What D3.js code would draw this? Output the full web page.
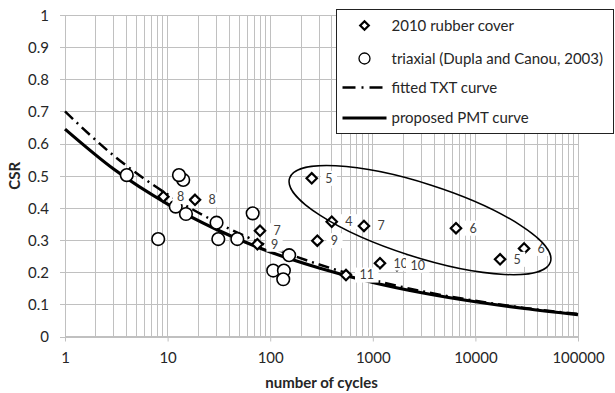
<!DOCTYPE html>
<html>
<head>
<meta charset="utf-8">
<script src="https://cdn.jsdelivr.net/npm/d3@7"></script>
<style>
  html, body { margin: 0; padding: 0; background: #fff; }
  svg { display: block; font-family: Lato, "Open Sans", sans-serif; }
</style>
</head>
<body>
<svg id="chart" width="615" height="393"></svg>
<script>
// 2010 rubber cover tests: number of cycles, CSR, and the label printed next to each
const rubberN     = [9.1, 18.5, 79.5, 75, 254, 398, 820, 288, 1175, 1720, 548, 6470, 17400, 29800];
const rubberCSR   = [0.435, 0.425, 0.329, 0.287, 0.492, 0.357, 0.344, 0.298, 0.228, 0.222, 0.191, 0.337, 0.240, 0.274];
const rubberLabel = ["8", "8", "7", "9", "5", "4", "7", "9", "10", "10", "11", "6", "5", "6"];

// triaxial tests (Dupla and Canou, 2003)
const triaxN   = [4.0, 14.2, 12.9, 12.0, 15.1, 8.1, 30, 31.2, 47.8, 67.5, 153, 107, 136, 134];
const triaxCSR = [0.502, 0.487, 0.502, 0.404, 0.381, 0.303, 0.354, 0.303, 0.303, 0.383, 0.253, 0.205, 0.205, 0.178];

// curves sampled along the cycle axis
const curveN   = [1, 3, 10, 30, 100, 300, 1000, 3000, 10000, 30000, 100000];
const txtCSR   = [0.700, 0.562, 0.442, 0.355, 0.279, 0.224, 0.176, 0.141, 0.111, 0.089, 0.070];
const pmtCSR   = [0.645, 0.520, 0.412, 0.333, 0.263, 0.213, 0.168, 0.136, 0.108, 0.087, 0.068];

// axis ticks
const xTicks = [1, 10, 100, 1000, 10000, 100000];
const yTicks = [0, 0.1, 0.2, 0.3, 0.4, 0.5, 0.6, 0.7, 0.8, 0.9, 1];

// legend entries
const legendLabels = ["2010 rubber cover", "triaxial (Dupla and Canou, 2003)", "fitted TXT curve", "proposed PMT curve"];

// highlighted group of rubber-cover results (centre in data units)
const groupCentre = { n: 2884, csr: 0.362 };

const svg = d3.select("#chart");
const margin = { left: 65, right: 37, top: 15, bottom: 56.5 };
const W = 615, H = 393;
const iw = W - margin.left - margin.right;
const ih = H - margin.top - margin.bottom;

const x = d3.scaleLog().domain([1, 100000]).range([0, iw]);
const y = d3.scaleLinear().domain([0, 1]).range([ih, 0]);

const g = svg.append("g").attr("transform", `translate(${margin.left},${margin.top})`);
const gridColor = "#c0c0c0";
const textColor = "#262626";

// vertical grid: every decade subdivision
const minor = [];
for (let d = 1; d < 100000; d *= 10) for (let k = 1; k <= 10; k++) minor.push(d * k);
g.append("g").selectAll("line").data(minor).join("line")
  .attr("x1", d => x(d)).attr("x2", d => x(d))
  .attr("y1", 0).attr("y2", ih)
  .attr("stroke", gridColor).attr("stroke-width", 1).attr("shape-rendering", "crispEdges");

// horizontal grid + y axis
const yAxis = d3.axisLeft(y).tickValues(yTicks).tickSize(-iw - 5)
  .tickFormat(d => d3.format("~g")(d));
const ya = g.append("g").call(yAxis);
ya.select(".domain").remove();
ya.selectAll(".tick line").attr("stroke", gridColor).attr("x1", -5).attr("x2", iw)
  .attr("shape-rendering", "crispEdges");
ya.selectAll(".tick text").attr("x", -16).attr("dy", "0.35em")
  .attr("font-size", 15).attr("fill", textColor).attr("font-family", "Lato, sans-serif");

// x axis
const xAxis = d3.axisBottom(x).tickValues(xTicks).tickSize(5).tickFormat(d3.format("d"));
const xa = g.append("g").attr("transform", `translate(0,${ih})`).call(xAxis);
xa.select(".domain").attr("stroke", gridColor).attr("d", `M0,0H${iw}`);
xa.selectAll(".tick line").attr("stroke", gridColor);
xa.selectAll(".tick text").attr("y", 21).attr("dy", "0.35em")
  .attr("font-size", 15).attr("fill", textColor).attr("font-family", "Lato, sans-serif");
g.append("line").attr("x1", 0).attr("x2", 0).attr("y1", 0).attr("y2", ih)
  .attr("stroke", gridColor).attr("shape-rendering", "crispEdges");

// axis titles
svg.append("text").attr("x", margin.left + iw / 2).attr("y", 388)
  .attr("text-anchor", "middle").attr("font-size", 15).attr("font-weight", "bold")
  .attr("fill", textColor).text("number of cycles");
svg.append("text").attr("transform", `translate(20,${margin.top + ih / 2}) rotate(-90)`)
  .attr("text-anchor", "middle").attr("font-size", 15).attr("font-weight", "bold")
  .attr("fill", textColor).text("CSR");

// curves
const line = d3.line().x(d => x(d[0])).y(d => y(d[1])).curve(d3.curveMonotoneX);
g.append("path").datum(curveN.map((n, i) => [n, txtCSR[i]]))
  .attr("d", line).attr("fill", "none").attr("stroke", "#000")
  .attr("stroke-width", 2.5).attr("stroke-dasharray", "11,5,2,5");
g.append("path").datum(curveN.map((n, i) => [n, pmtCSR[i]]))
  .attr("d", line).attr("fill", "none").attr("stroke", "#000").attr("stroke-width", 3.2);

// triaxial points
const triax = triaxN.map((n, i) => ({ n, csr: triaxCSR[i] }));
g.append("g").selectAll("circle").data(triax).join("circle")
  .attr("cx", d => x(d.n)).attr("cy", d => y(d.csr)).attr("r", 6.3)
  .attr("fill", "#fff").attr("stroke", "#000").attr("stroke-width", 1.6);

// rubber-cover points
const diamond = s => `M0,${-s}L${s},0L0,${s}L${-s},0Z`;
const rubber = rubberN.map((n, i) => ({ n, csr: rubberCSR[i], label: rubberLabel[i] }));
g.append("g").selectAll("path").data(rubber).join("path")
  .attr("transform", d => `translate(${x(d.n)},${y(d.csr)})`)
  .attr("d", diamond(5.2)).attr("fill", "#fff").attr("stroke", "#000").attr("stroke-width", 2.2);

// data labels on white boxes
const lab = g.append("g");
rubber.forEach(d => {
  const lg = lab.append("g").attr("transform", `translate(${x(d.n) + 13.5},${y(d.csr)})`);
  const rect = lg.append("rect").attr("fill", "#fff");
  const t = lg.append("text").attr("x", 0).attr("y", 0).attr("dy", "0.35em")
    .attr("font-size", 12.5).attr("fill", "#404040").text(d.label);
  const w = t.node().getComputedTextLength();
  rect.attr("x", -4.5).attr("y", -7.5).attr("width", w + 9).attr("height", 15);
});

// outline around the group
const cx = x(groupCentre.n), cy = y(groupCentre.csr);
g.append("ellipse").attr("cx", cx).attr("cy", cy).attr("rx", 137).attr("ry", 36.7)
  .attr("transform", `rotate(17.8,${cx},${cy})`)
  .attr("fill", "none").attr("stroke", "#000").attr("stroke-width", 1.5);

// legend
const lgd = svg.append("g").attr("transform", "translate(336.5,9.5)");
lgd.append("rect").attr("width", 277).attr("height", 124)
  .attr("fill", "#fff").attr("stroke", "#222").attr("stroke-width", 1);
const rowsY = [16, 49, 78, 108.5];
legendLabels.forEach((t, i) => {
  lgd.append("text").attr("x", 55).attr("y", rowsY[i]).attr("dy", "0.35em")
    .attr("font-size", 15).attr("fill", textColor).text(t);
});
lgd.append("path").attr("transform", `translate(28,${rowsY[0]})`).attr("d", diamond(4.3))
  .attr("fill", "#fff").attr("stroke", "#000").attr("stroke-width", 2.2);
lgd.append("circle").attr("cx", 28).attr("cy", rowsY[1]).attr("r", 5.5)
  .attr("fill", "#fff").attr("stroke", "#000").attr("stroke-width", 1.3);
lgd.append("line").attr("x1", 6).attr("x2", 50).attr("y1", rowsY[2]).attr("y2", rowsY[2])
  .attr("stroke", "#000").attr("stroke-width", 2.5).attr("stroke-dasharray", "13,6,2,6");
lgd.append("line").attr("x1", 6).attr("x2", 50).attr("y1", rowsY[3]).attr("y2", rowsY[3])
  .attr("stroke", "#000").attr("stroke-width", 3.2);
</script>
</body>
</html>
